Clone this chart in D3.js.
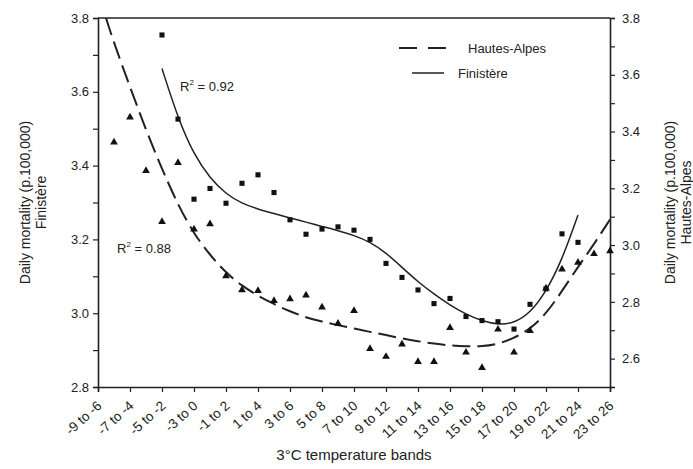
<!DOCTYPE html>
<html>
<head>
<meta charset="utf-8">
<script src="https://cdn.jsdelivr.net/npm/d3@7"></script>
<style>
  body { margin: 0; background: #fff; }
  text { font-family: "Liberation Sans", Arial, sans-serif; fill: #222; }
</style>
</head>
<body>
<div id="chart"></div>
<script>
// band labels, one every 2 degrees (lower bound -9 .. 23)
var bandLabels = ["-9 to -6", "-7 to -4", "-5 to -2", "-3 to 0", "-1 to 2", "1 to 4", "3 to 6", "5 to 8",
  "7 to 10", "9 to 12", "11 to 14", "13 to 16", "15 to 18", "17 to 20", "19 to 22", "21 to 24", "23 to 26"];
var bandStarts = [-9, -7, -5, -3, -1, 1, 3, 5, 7, 9, 11, 13, 15, 17, 19, 21, 23];

// Finistère observed (left axis)
var finT = [-5, -4, -3, -2, -1, 0, 1, 2, 3, 4, 5, 6, 7, 8, 9, 10, 11, 12, 13, 14, 15, 16, 17, 18, 19, 20, 21];
var finObs = [3.754, 3.526, 3.309, 3.338, 3.298, 3.352, 3.375, 3.327, 3.253, 3.214, 3.228, 3.234, 3.225, 3.200,
  3.135, 3.097, 3.063, 3.026, 3.040, 2.991, 2.980, 2.977, 2.957, 3.024, 3.066, 3.215, 3.192];
// Finistère fitted curve
var finFit = [3.663, 3.528, 3.429, 3.366, 3.323, 3.297, 3.282, 3.270, 3.258, 3.247, 3.235, 3.224, 3.211, 3.193,
  3.164, 3.124, 3.085, 3.052, 3.022, 2.997, 2.979, 2.969, 2.973, 3.000, 3.058, 3.144, 3.266];

// Hautes-Alpes observed (right axis)
var haT = [-8, -7, -6, -5, -4, -3, -2, -1, 0, 1, 2, 3, 4, 5, 6, 7, 8, 9, 10, 11, 12, 13, 14, 15, 16, 17, 18, 19, 20, 21, 22, 23];
var haObs = [3.362, 3.450, 3.262, 3.082, 3.290, 3.056, 3.074, 2.891, 2.842, 2.839, 2.804, 2.810, 2.823, 2.781,
  2.724, 2.769, 2.635, 2.607, 2.651, 2.589, 2.589, 2.709, 2.622, 2.568, 2.703, 2.622, 2.698, 2.848, 2.915,
  2.939, 2.969, 2.979];
// Hautes-Alpes fitted curve
var haFitT = [-8.5, -8, -7, -6, -5, -4, -3, -2, -1, 0, 1, 2, 3, 4, 5, 6, 7, 8, 9, 10, 11, 12, 13, 14, 15, 16, 17, 18, 19, 20, 21, 22, 23];
var haFit = [3.800, 3.712, 3.557, 3.405, 3.268, 3.141, 3.039, 2.965, 2.902, 2.856, 2.821, 2.792, 2.766, 2.745,
  2.730, 2.718, 2.706, 2.694, 2.683, 2.671, 2.661, 2.653, 2.646, 2.643, 2.643, 2.651, 2.672, 2.704, 2.757,
  2.838, 2.923, 3.003, 3.090];

var leftTicks = [2.8, 3.0, 3.2, 3.4, 3.6, 3.8];
var rightTicks = [2.6, 2.8, 3.0, 3.2, 3.4, 3.6, 3.8];

var totalW = 693, totalH = 469;
var margin = {top: 18, left: 98};
var width = 512, height = 369;
var ink = "#222";

var svg = d3.select("#chart").append("svg")
  .attr("width", totalW)
  .attr("height", totalH);

var g = svg.append("g")
  .attr("transform", "translate(" + margin.left + "," + margin.top + ")");

var x = d3.scaleLinear().domain([-9, 23]).range([0, width]);
var yL = d3.scaleLinear().domain([2.8, 3.8]).range([height, 0]);
var yR = d3.scaleLinear().domain([2.5, 3.8]).range([height, 0]);

svg.append("defs").append("clipPath").attr("id", "plotclip")
  .append("rect").attr("width", width).attr("height", height);

function isMajor(list) {
  return function (d) {
    return list.some(function (t) { return Math.abs(t - d) < 1e-6; }) ? d3.format(".1f")(d) : "";
  };
}

// left axis
var leftAxis = g.append("g")
  .call(d3.axisLeft(yL).tickValues(d3.range(2.8, 3.81, 0.1)).tickSize(5).tickFormat(isMajor(leftTicks)));

// right axis
var rightAxis = g.append("g")
  .attr("transform", "translate(" + width + ",0)")
  .call(d3.axisRight(yR).tickValues(d3.range(2.5, 3.81, 0.1)).tickSize(5).tickFormat(isMajor(rightTicks)));

// bottom axis
var bottomAxis = g.append("g")
  .attr("transform", "translate(0," + height + ")")
  .call(d3.axisBottom(x).tickValues(bandStarts).tickSize(5)
    .tickFormat(function (d, i) { return bandLabels[i]; }));

bottomAxis.selectAll("text")
  .attr("text-anchor", "end")
  .attr("dy", null)
  .attr("transform", "translate(4,20) rotate(-42)")
  .attr("y", 0).attr("x", 0)
  .style("font-size", "13.5px");

[leftAxis, rightAxis, bottomAxis].forEach(function (a) {
  a.select(".domain").attr("stroke", ink).attr("stroke-width", 1.6);
  a.selectAll(".tick line").attr("stroke", ink).attr("stroke-width", 1.2);
  a.selectAll(".tick text").style("fill", ink).style("font-family", "Liberation Sans, Arial, sans-serif");
});
leftAxis.selectAll(".tick text").style("font-size", "13px").attr("x", -9);
rightAxis.selectAll(".tick text").style("font-size", "13px").attr("x", 12);

// top border
g.append("line")
  .attr("x1", 0).attr("x2", width).attr("y1", 0).attr("y2", 0)
  .attr("stroke", ink).attr("stroke-width", 1.6);

var plot = g.append("g").attr("clip-path", "url(#plotclip)");

var finLine = d3.line()
  .x(function (d, i) { return x(finT[i]); })
  .y(function (d) { return yL(d); })
  .curve(d3.curveBasis);

var haLine = d3.line()
  .x(function (d, i) { return x(haFitT[i]); })
  .y(function (d) { return yR(d); })
  .curve(d3.curveBasis);

plot.append("path")
  .attr("d", haLine(haFit))
  .attr("fill", "none")
  .attr("stroke", ink)
  .attr("stroke-width", 2)
  .attr("stroke-dasharray", "18,7");

plot.append("path")
  .attr("d", finLine(finFit))
  .attr("fill", "none")
  .attr("stroke", ink)
  .attr("stroke-width", 1.5);

// markers
g.append("g").selectAll("path")
  .data(finObs)
  .enter().append("path")
  .attr("d", d3.symbol().type(d3.symbolSquare).size(26))
  .attr("transform", function (d, i) { return "translate(" + x(finT[i]) + "," + yL(d) + ")"; })
  .attr("fill", "#111");

g.append("g").selectAll("path")
  .data(haObs)
  .enter().append("path")
  .attr("d", d3.symbol().type(d3.symbolTriangle).size(26))
  .attr("transform", function (d, i) { return "translate(" + x(haT[i]) + "," + yR(d) + ")"; })
  .attr("fill", "#111");

// R2 labels
g.append("text").attr("x", 82).attr("y", 73).style("font-size", "13px")
  .html('R<tspan dy="-6" style="font-size:8px">2</tspan><tspan dy="6"> = 0.92</tspan>');
g.append("text").attr("x", 19).attr("y", 235).style("font-size", "13px")
  .html('R<tspan dy="-6" style="font-size:8px">2</tspan><tspan dy="6"> = 0.88</tspan>');

// legend
var legend = g.append("g");
legend.append("line")
  .attr("x1", 301).attr("x2", 349).attr("y1", 30).attr("y2", 30)
  .attr("stroke", ink).attr("stroke-width", 2).attr("stroke-dasharray", "18,11");
legend.append("text").attr("x", 370).attr("y", 35).style("font-size", "13px").text("Hautes-Alpes");
legend.append("line")
  .attr("x1", 314).attr("x2", 346).attr("y1", 55).attr("y2", 55)
  .attr("stroke", ink).attr("stroke-width", 1.5);
legend.append("text").attr("x", 360).attr("y", 60).style("font-size", "13px").text("Finistère");

// axis titles
var leftTitle = svg.append("text")
  .attr("transform", "translate(30," + (margin.top + height / 2) + ") rotate(-90)")
  .attr("text-anchor", "middle")
  .style("font-size", "14px");
leftTitle.append("tspan").attr("x", 0).attr("dy", 0).text("Daily mortality (p.100,000)");
leftTitle.append("tspan").attr("x", 0).attr("dy", 16).text("Finistère");

var rightTitle = svg.append("text")
  .attr("transform", "translate(675," + (margin.top + height / 2) + ") rotate(-90)")
  .attr("text-anchor", "middle")
  .style("font-size", "14px");
rightTitle.append("tspan").attr("x", 0).attr("dy", 0).text("Daily mortality (p.100,000)");
rightTitle.append("tspan").attr("x", 0).attr("dy", 16).text("Hautes-Alpes");

svg.append("text")
  .attr("x", margin.left + width / 2)
  .attr("y", 460)
  .attr("text-anchor", "middle")
  .style("font-size", "15px")
  .text("3°C temperature bands");
</script>
</body>
</html>
